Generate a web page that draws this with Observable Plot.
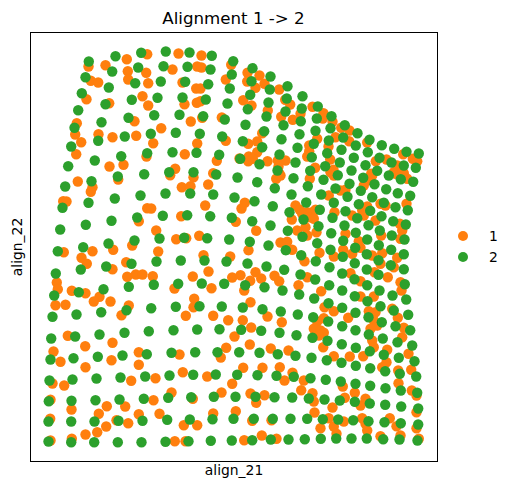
<!DOCTYPE html>
<html>
<head>
<meta charset="utf-8">
<script src="https://cdn.jsdelivr.net/npm/d3@7"></script>
<script src="https://cdn.jsdelivr.net/npm/@observablehq/plot@0.6"></script>
<style>
html,body{margin:0;padding:0;background:#fff;font-family:"DejaVu Sans",sans-serif;}
#wrap{position:relative;width:512px;height:491px;overflow:hidden;}
#wrap svg{display:block;}
#title{position:absolute;left:30px;width:407px;top:10px;text-align:center;font-size:16.67px;line-height:18px;color:#000;}
#legend{position:absolute;left:458px;top:226px;font-size:13.9px;color:#000;}
#legend .row{position:relative;height:21px;width:54px;}
#legend i{position:absolute;left:-0.25px;top:4.75px;width:10.5px;height:10.5px;border-radius:50%;}
#legend span{position:absolute;left:31px;top:2px;line-height:16px;}
</style>
</head>
<body>
<div id="wrap">
<div id="chart"></div>
<div id="title"></div>
<div id="legend"></div>
</div>
<script>
const titleText = "Alignment 1 -> 2";
const xLabel = "align_21";
const yLabel = "align_22";
const groups = ["1", "2"];
const colors = ["#ff7f0e", "#2ca02c"];

const group1 = [
[146.7,53.7],[126.3,58.7],[88,66],[105,64.7],[127.3,70.7],[145.7,72.3],[90.3,80.3],[97.7,82],[127.7,79],[147.7,82.7],[86,98.7],[108.7,102.7],[142,95.7],[147.7,105],[76.3,122.7],[134,120.7],[74.7,134],[98,133.7],[112,136.7],[135.7,135.3],[160.7,127.7],[80.7,141.7],[152.7,142.7],[75.7,153.7],[146,156],[109,166],[123,164.3],
[178,53],[201,55],[230.7,64.3],[196.7,66],[201,67],[172,69],[247,72.3],[259,75],[225.3,79],[246.7,81],[264,83.3],[182,82],[195.7,88],[200,88],[255,87.3],[278.7,89],[284.7,99.3],[242.7,99.7],[289.7,104],[251,105],[184,103.7],[196.3,102.3],[200,100.7],[267.3,110],[280.7,116.3],[292.3,119.3],[300,113.3],[221.3,117],[201.7,117.3],[190.3,121],[261.7,132.7],[225.3,140.3],[196.7,143],[247.7,143.3],[256.7,141],[184.3,153.7],[256.7,151.7],[216.3,160.3],[239,158],[248.3,156],[247.7,160.7],[252.3,158.3],[267,160.7],[277.3,160],[285,160],[278,166],[174.7,168.3],[212.7,172.7],[278.7,172.7],
[312,106.3],[323,112.7],[322.3,118],[332,121.3],[340.7,127.3],[349,130],[335,136.7],[316.7,138.3],[348.7,140.7],[308.7,145],[366.7,142],[328,146],[308.7,150.7],[306.7,156],[329.7,159],[375.3,160.7],[386,159],[402.7,153.7],[412.3,158.3],[416.7,160.7],[314.7,167.3],[333,169.3],[396.7,165],[399.3,169.3],[393.3,171.7],[370.7,173.3],[403.3,172.7],
[117.7,179],[77.3,181],[92,186.7],[90.3,191.3],[62.7,200.7],[66,201],[146.7,207.7],[150.7,208],[138.3,220.7],[155.7,230],[131.7,245],[112.7,249.3],[92,250.7],[63.3,251.7],[157.7,251],[81,257.3],[86.3,263.3],[125.7,261.7],[112,268.7],[126.7,276.3],[135.3,274],[142,274],[152.3,275.7],[56.3,282],[57.3,288.7],[71.3,290.3],[85,292.7],[99,296.3],[93.3,301],[110,301],[55,304.7],[65,304.3],[128.3,305],[121,314.7],
[169.7,174.7],[193,176.7],[275.7,178.3],[280,175],[181.3,186.7],[190,185.7],[207.7,184],[244.3,202.3],[241,208],[204.7,205],[295,205],[299.3,209.3],[291.3,219],[180.7,215.7],[235.3,221.3],[255.7,230.3],[296.7,230],[175.7,238.7],[198.7,235.3],[185.7,237.7],[280,242],[286.7,241.3],[291.7,249.3],[248,249.7],[229.7,256],[203,254.7],[208,271],[192.3,276],[231.7,277],[240,274.7],[255,271.7],[260.7,278],[249.7,280.3],[274,275.3],[278.7,280.7],[174,288],[211,287.7],[243.7,290],[298,284.7],[193.7,298.3],[193,306.7],[250,301.7],[185.3,315.3],[212.7,315.3],[267,316],
[309.3,178.3],[330,171.7],[333.3,175],[371.7,175],[366.7,180],[363.3,185],[395,173.3],[401.7,171.7],[406.7,178.3],[340,190],[345,189.3],[328.3,195],[380,203.3],[385,205],[406,203.3],[311.7,211.7],[306.7,211.7],[315,209.3],[301.7,213.3],[334,211.7],[308.3,216.7],[351.7,215],[361.7,210],[363.3,215],[366.7,206],[375,220],[313.3,218.3],[316,231.7],[305,226.7],[306.7,235],[345,233.3],[399.3,223.3],[401.7,230],[400,238.3],[380.7,235],[358.3,240.7],[360,247.3],[319,252.3],[342.7,249.3],[333.3,256],[351.7,253.3],[371.7,255],[381.7,252.7],[380,263.3],[396.7,257.3],[393.3,266.7],[304,260.7],[350,272.7],[306.7,276.7],[360,280.7],[374,271.7],[387.3,276.7],[400,281.7],[401,290],[320.7,290.7],[360,296],[373.3,296],[324,306.7],[333.3,310.7],[368.3,310.7],[375,311.7],[391.7,308.3],[397.3,317.3],[347.7,317.3],[323.3,317.7],
[67.3,335.3],[112,342.3],[84.7,345.7],[53,351],[138.3,351.7],[60,361.3],[111,359.7],[138.3,364.3],[85,366.7],[52,383],[63.7,385],[130.7,380.3],[155,377.7],[153,399.7],[106.3,405.7],[124.7,406],[71,409],[98.3,413.3],[138.3,413.7],[159,413.3],[50,399.3],[49.7,418.3],[116,419.7],[127.7,422.7],[105.7,426],[96.7,431.7],[85,434],[50,440],[71.3,438.3],
[179,354],[182.3,371.7],[206.7,376],[227.7,319.7],[242.3,319.7],[281.3,321.7],[250.7,327],[234,336],[249.3,344],[225.7,347.3],[270.3,348],[288,350],[220.3,357],[242.7,367.3],[262,367.3],[279.3,366.7],[292,372.3],[284,380],[231.7,383.3],[221,392],[171,392],[192.3,398.3],[250,393],[264,394.7],[255.7,402.3],[300.7,389.7],[303.3,380],[212.7,413],[235.3,410.7],[183.3,424.7],[196.7,424.7],[251.7,420.3],[271,419.7],[174.3,440.7],[185,440.7],[243.7,439.7],[261.3,435],[276,438.3],
[316.7,321],[373.3,320],[376.7,325],[313.3,328.3],[320,330],[323.3,332.3],[318.3,335],[403.3,327.3],[370,328.3],[401.7,336.7],[371.7,340],[322.7,346.7],[373.3,346.7],[386.7,349.3],[333.3,355.7],[349.3,356],[362.7,355.7],[408,353.3],[386,361.7],[381.7,366.7],[410.7,369.3],[397.7,370],[342.3,386],[398,382.7],[411.3,390],[416,395],[312,392.7],[313.3,401],[354.3,392.3],[344.3,397.3],[365,398.3],[360,405],[332,407],[416,411.7],[314,412],[328.3,417.7],[343.3,421],[361.7,417.7],[365,423.3],[389.3,417.7],[396,425.7],[416,427.7],[320,427.7],[333.3,426],[366.7,430],[336,433.3],[380,435.7],[400,435],[418.3,438.3]
];

const group2 = [
[88.3,61],[115,55.7],[140.7,52.3],[165.3,51],[163,65.7],[137.7,67],[111.7,71],[85,76.7],[108.3,87],[134.7,82.7],[160.3,81],[81.3,92.7],[105,103.7],[131.3,99.3],[157,97.3],[77.7,109.7],[101,121.7],[128,117.3],[153.7,114.7],[74,127.3],[124.3,136],[97.7,140.3],[150.3,133.3],[70.7,146],[146.7,152.7],[120.7,155.7],[94.3,160],[67.7,165.7],
[189,52],[211.3,55.3],[232.7,60.7],[187,66.3],[210,69],[252,67.7],[231.3,74],[270,76],[184.7,81.3],[251,80.7],[207.7,83.7],[229.3,88],[287,85.7],[269.3,89],[249.7,94.3],[182,97],[205.3,99],[227,103],[302,95.7],[286.3,98],[268,102],[247.3,108.7],[301.3,108],[285,111],[179,114.3],[202.7,115.7],[224.3,119],[266,116],[300.3,120.7],[245,124.3],[283,124.7],[263.7,130.7],[175.3,132.3],[199.3,133.3],[221.7,136],[299,133.7],[242.3,140.7],[281,138.7],[297,147.3],[261.7,146.7],[172,151.7],[196,152.3],[218.7,154.3],[279,154],[239.7,158.3],[295,162],[259,163.7],[277,170],[168.7,171.7],[193,171.7],
[317.3,106],[331,115.7],[316.3,118],[344.3,124.7],[330,127.7],[315,130.3],[357,132.7],[342.7,137],[328.3,140],[369,139.3],[313.3,143.3],[355.3,145],[381.3,144.7],[341,149.3],[393.7,148.3],[367.3,151.7],[406,151.3],[418.3,153],[326.7,152.7],[311.3,156.7],[353.3,157.3],[379,157.3],[391,162],[339.3,162],[365,164.7],[403.3,165],[415.3,167.3],[324.7,165.7],[309.7,170.3],[351,170],[376.7,170.3],
[91,180.7],[117.3,176],[143.7,173.7],[64.7,186],[140,195],[165,193],[114.3,198],[88,202.3],[62,207.3],[162.3,215.3],[136.7,217],[111,220.3],[85.3,224.3],[59.7,229],[159,238],[134,240],[108,243],[82.7,246.7],[57.3,250.7],[156,261],[131,263.3],[105.7,266],[80.3,269],[55.3,273],[128.3,286.3],[153.3,284.3],[103,288.7],[78.3,291.7],[53.7,295],[150.7,307.7],[126,309.7],[100.7,311.7],[76,314],[52,316.3],
[215.7,174],[237,177],[256.7,181.7],[293,177.7],[189.7,193],[212.7,194],[274.3,187.7],[291,194],[234,197],[254,200.7],[272.3,205.7],[209.7,215.7],[186.7,214.7],[289,211.7],[231.3,217.3],[251.7,220.7],[270,225],[303,219],[287.3,230.3],[206.7,237.7],[183.7,237.3],[228.7,239],[302,236.3],[249.3,241.3],[268,245],[285.3,249.7],[180.3,260],[204,260],[226,261],[247,263],[300.7,254.7],[266,266],[283.7,269.3],[300,274],[201.3,283],[177.7,283.3],[223.7,283.3],[244.7,284.7],[264,286.7],[282,290],[298.7,294],[175.3,306.3],[199,305.7],[221.3,306],[242.3,307],[262,308.7],[280.3,311],[297.3,314],
[337.3,174.7],[323,179.3],[362.7,177.3],[388.3,175],[400.3,178.7],[412.7,181.3],[307.3,185.7],[349,183.3],[374,183.7],[335,188],[385.7,188.7],[360.3,190.3],[397.3,192.7],[320.7,194],[347,196.3],[371.7,196.7],[409.7,195.3],[305.7,202],[333.3,202.3],[358.3,203.7],[383.3,202.3],[395,206.7],[319.3,209.3],[345,210.7],[369.7,210.3],[407.3,209.7],[332,217.3],[356.7,217.7],[381,215.7],[392.7,220.7],[318,225.7],[368,224.7],[344,225],[405.3,224],[379.3,230],[330.7,232.7],[355.3,232.3],[391.3,235],[404,239],[316.7,242.7],[366.7,239],[342.7,240.3],[378.3,244.7],[354.7,247.3],[390.7,249.3],[330,249.3],[366.3,253.7],[403.3,253.7],[342.3,256.3],[378,259.7],[315.3,260.7],[354.3,262.7],[390.3,264.7],[329,266.7],[366.3,269],[403.3,268.7],[341.7,273],[378,274.3],[314.7,279],[354,278.7],[366.7,284.7],[404.3,283.7],[328.7,284.7],[379,290],[341.7,290],[392,295],[354.3,295.7],[405.7,299],[313.7,298],[367,300.7],[380,305.7],[328,302.7],[341.7,307.3],[393.3,310],[355,312.3],[407.7,314.3],[368,316.7],[312.7,316.7],
[50.7,338],[74.7,336],[99,334],[124,332.3],[148.3,330.7],[50,359],[73,357.7],[97.3,356.3],[122,355],[146.3,353.7],[49,380],[72,379],[96,378],[120,377],[144.7,376],[48.3,400.7],[71,400.3],[95,399.7],[119,399],[143.3,398.3],[48,421],[70.7,421],[94,421],[118,420.3],[142,420.3],[48,441],[70.7,441.7],[93.7,441.7],[117.3,441.7],[141,441.7],[165,441.3],
[173,329.7],[196.7,329],[219,328.7],[240.7,329.3],[260.7,330.3],[279,332.3],[296,334.7],[171,352.3],[194.7,351.7],[217,351.7],[238.7,351.7],[259,352.3],[277.3,353.7],[295,355.3],[169,375],[192.7,374.3],[215.3,374],[236.7,374.3],[257,374.7],[276,375.3],[293.3,376.3],[167.7,397.3],[190.7,396.7],[213.3,396.3],[235,396.3],[255,396.3],[274,396.7],[291.7,397],[166.7,419.3],[189.3,419],[212,418.7],[233,418.3],[253.3,418.3],[272.3,418.3],[290,418.3],[188,440.7],[210.3,440.3],[231.3,440],[251.7,439.7],[270.3,439],[288,439],[304.3,438.7],
[327.7,321],[341.7,325.7],[381.3,321.7],[395,325.7],[355,329.7],[409.7,329.7],[368.3,334],[312,337.3],[327,340.3],[382.3,338],[397,341.7],[341.3,343.7],[355.3,347.3],[369.3,350.7],[411.7,345],[383.3,354.3],[398.3,357.3],[311,357.3],[326.3,359.7],[341,362.3],[355.3,365.3],[369.7,367.7],[414,360.7],[384.7,370.7],[399.3,373.3],[310,377.7],[325.3,379.3],[340.3,381],[355,383.3],[369.7,385.3],[415.7,376],[385,387.7],[400.3,390],[416.7,392.3],[308.3,398],[324,399],[339.3,400],[354.3,401.3],[369.3,403],[384.7,404.3],[400.7,406],[417.7,408],[306.7,418.3],[322.3,418.7],[337.7,419],[352.7,419.7],[368,420.7],[384,421.7],[400.3,422.7],[417.7,424],[320.3,438.3],[335.7,438],[351,438],[366.3,438],[382.7,438.7],[399,439],[417,440]
];

const chart = Plot.plot({
  width: 512,
  height: 491,
  marginLeft: 30,
  marginRight: 75,
  marginTop: 32,
  marginBottom: 30,
  style: {background: "#fff", fontFamily: "'DejaVu Sans', sans-serif", overflow: "visible"},
  x: {domain: [30, 437], axis: null},
  y: {domain: [461, 32], axis: null},
  marks: [
    Plot.dot(group1, {x: d => d[0], y: d => d[1], r: 5.2, fill: colors[0]}),
    Plot.dot(group2, {x: d => d[0], y: d => d[1], r: 5.2, fill: colors[1]}),
    Plot.frame({stroke: "#000", strokeWidth: 1}),
    Plot.text([xLabel], {text: d => d, frameAnchor: "bottom", textAnchor: "middle", dy: 13, fontSize: 13.9, fill: "#000"}),
    Plot.text([yLabel], {text: d => d, frameAnchor: "left", textAnchor: "middle", dx: -13, rotate: -90, fontSize: 13.9, fill: "#000"})
  ]
});
document.getElementById("chart").appendChild(chart);
document.getElementById("title").textContent = titleText;
const legend = document.getElementById("legend");
groups.forEach((g, i) => {
  const row = document.createElement("div");
  row.className = "row";
  const dot = document.createElement("i");
  dot.style.background = colors[i];
  const label = document.createElement("span");
  label.textContent = g;
  row.append(dot, label);
  legend.append(row);
});
</script>
</body>
</html>
